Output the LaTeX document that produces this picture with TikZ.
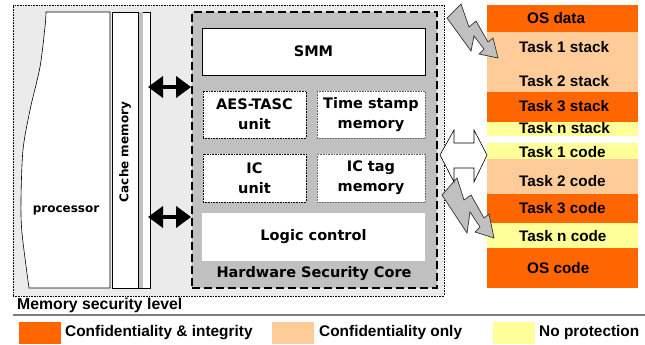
\documentclass[tikz,border=0pt]{standalone}
\usepackage{fontspec}
\newfontfamily\dv{DejaVu Sans}
\newfontfamily\lib{Liberation Sans}
\usetikzlibrary{arrows.meta}
\definecolor{orng}{HTML}{FF6600}
\definecolor{peach}{HTML}{FFCC99}
\definecolor{yel}{HTML}{FFFF99}
\definecolor{coreg}{HTML}{C0C0C0}
\definecolor{bgg}{HTML}{EBEBEB}
\begin{document}
\begin{tikzpicture}[x=1pt,y=-1pt,
  dvtxt/.style={font=\dv\bfseries\fontsize{14.5}{20}\selectfont, align=center, inner sep=0pt},
  dvsmall/.style={font=\dv\bfseries\fontsize{12}{14}\selectfont, inner sep=0pt},
  memtxt/.style={font=\lib\bfseries\fontsize{15.3}{17}\selectfont, inner sep=0pt, anchor=west},
  legtxt/.style={font=\lib\bfseries\fontsize{15.4}{17}\selectfont, inner sep=0pt, anchor=west},
  unitbox/.style={draw, densely dotted, fill=white, inner sep=0pt, line width=0.6pt},
  solidbox/.style={draw, fill=white, inner sep=0pt, line width=0.6pt},
  plainbox/.style={fill=white, inner sep=0pt},
  bus/.style={line width=4pt, {Triangle[length=15pt,width=21pt]}-{Triangle[length=15pt,width=21pt]}},
  bolt/.style={fill=coreg, draw=black!80, line width=0.7pt, line join=miter},
  hollow/.style={fill=white, draw=black, line width=0.6pt},
  swatch/.style={inner sep=0pt, minimum width=42pt, minimum height=22pt}
]
\useasboundingbox (0,0) rectangle (645,345);
\fill[white] (0,0) rectangle (645,345);

% outer platform box
\node[draw, densely dotted, fill=bgg, inner sep=0pt, minimum width=431pt, minimum height=291pt, line width=0.6pt] (platform) at (228.5,150.5) {};

% processor
\draw[fill=white, line width=0.6pt] (110,12) -- (46,12) -- plot[smooth] coordinates {(46,12) (45,27) (40,67) (30,110) (23,150) (21,200) (22,233) (29,288)} -- (110,288) -- cycle;
\node[dvsmall] (proc) at (66,210) {processor};

% cache memory
\node[solidbox, minimum width=26pt, minimum height=276pt] (cache) at (125,150) {};
\node[dvsmall, rotate=90] (cachelbl) at (125,152) {Cache memory};
\node[solidbox, minimum width=12pt, minimum height=276pt] (strip) at (144,150) {};
\fill[coreg] (138.6,12.5) rectangle (143,287.5);

% hardware security core
\node[draw, fill=coreg, dash pattern=on 8pt off 4pt, line width=1.8pt, inner sep=0pt, minimum width=245pt, minimum height=276pt] (core) at (314.5,150) {};
\node[solidbox, minimum width=223pt, minimum height=47pt] (smm) at (313.5,51.5) {};
\node[dvtxt] at (smm) {SMM};
\node[unitbox, minimum width=103pt, minimum height=47pt] (aes) at (254.5,114.5) {};
\node[dvtxt] at (aes) {AES-TASC\\unit};
\node[unitbox, draw=black!60, minimum width=108pt, minimum height=47pt] (ts) at (371,114.5) {};
\node[dvtxt] at (ts) {Time stamp\\memory};
\node[unitbox, minimum width=103pt, minimum height=48pt] (ic) at (254.5,178) {};
\node[dvtxt] at (ic) {IC\\unit};
\node[unitbox, draw=black!60, minimum width=108pt, minimum height=48pt] (ictag) at (371,178) {};
\node[dvtxt] at (ictag) {IC tag\\memory};
\node[plainbox, minimum width=223pt, minimum height=48pt] (logic) at (313.5,237) {};
\node[dvtxt] at (logic) {Logic control};
\node[dvtxt] (hsc) at (314,274) {Hardware Security Core};

% buses between cache and core
\coordinate (b1) at (148,87);
\coordinate (b2) at (148,217);
\draw[bus] (b1) -- (core.west |- b1);
\draw[bus] (b2) -- (core.west |- b2);

% memory map
\fill[orng] (487,5) rectangle (638,32);
\fill[peach] (487,32) rectangle (638,92);
\fill[orng] (487,92) rectangle (638,122);
\fill[yel] (487,122) rectangle (638,136);
\fill[yel] (487,143) rectangle (638,159);
\fill[peach] (487,159) rectangle (638,194);
\fill[orng] (487,194) rectangle (638,223);
\fill[yel] (487,223) rectangle (638,248);
\fill[orng] (487,248) rectangle (638,288);
\node[memtxt] (osdata) at (527,18) {OS data};
\node[memtxt] (t1s) at (519,47) {Task 1 stack};
\node[memtxt] (t2s) at (519,81) {Task 2 stack};
\node[memtxt] (t3s) at (519,106) {Task 3 stack};
\node[memtxt] (tns) at (519,128) {Task n stack};
\node[memtxt] (t1c) at (519,152) {Task 1 code};
\node[memtxt] (t2c) at (519,181) {Task 2 code};
\node[memtxt] (t3c) at (519,208) {Task 3 code};
\node[memtxt] (tnc) at (519,236) {Task n code};
\node[memtxt] (oscode) at (527,268) {OS code};

% lightning arrows (protected traffic)
\draw[bolt] (447,18) -- (461,4) -- (469,27) -- (476,21) -- (488,42) -- (493,38) -- (498,58) -- (479,54) -- (484,49) -- (474,36) -- (471,51) -- cycle;
\draw[bolt] (442,195) -- (457,178) -- (464,200) -- (471,195) -- (484,218) -- (489,214) -- (494,238) -- (475,232) -- (480,227) -- (470,212) -- (467,233) -- cycle;
% hollow double arrow (plain traffic)
\draw[hollow] (440,155) -- (454,130) -- (454,143) -- (474,143) -- (474,130) -- (487,155) -- (474,182) -- (474,168) -- (454,168) -- (454,182) -- cycle;

% legend
\node[legtxt, font=\lib\bfseries\fontsize{15.8}{17}\selectfont] (leghead) at (17,305) {Memory security level};
\draw[gray, line width=1.5pt] (13,315) -- (645,315);
\node[swatch, fill=orng] (sw1) at (40,333) {};
\node[legtxt] (lg1) at (65,333) {Confidentiality \& integrity};
\node[swatch, fill=peach] (sw2) at (293,333) {};
\node[legtxt] (lg2) at (319,333) {Confidentiality only};
\node[swatch, fill=yel] (sw3) at (514,333) {};
\node[legtxt] (lg3) at (539,333) {No protection};
\end{tikzpicture}
\end{document}
